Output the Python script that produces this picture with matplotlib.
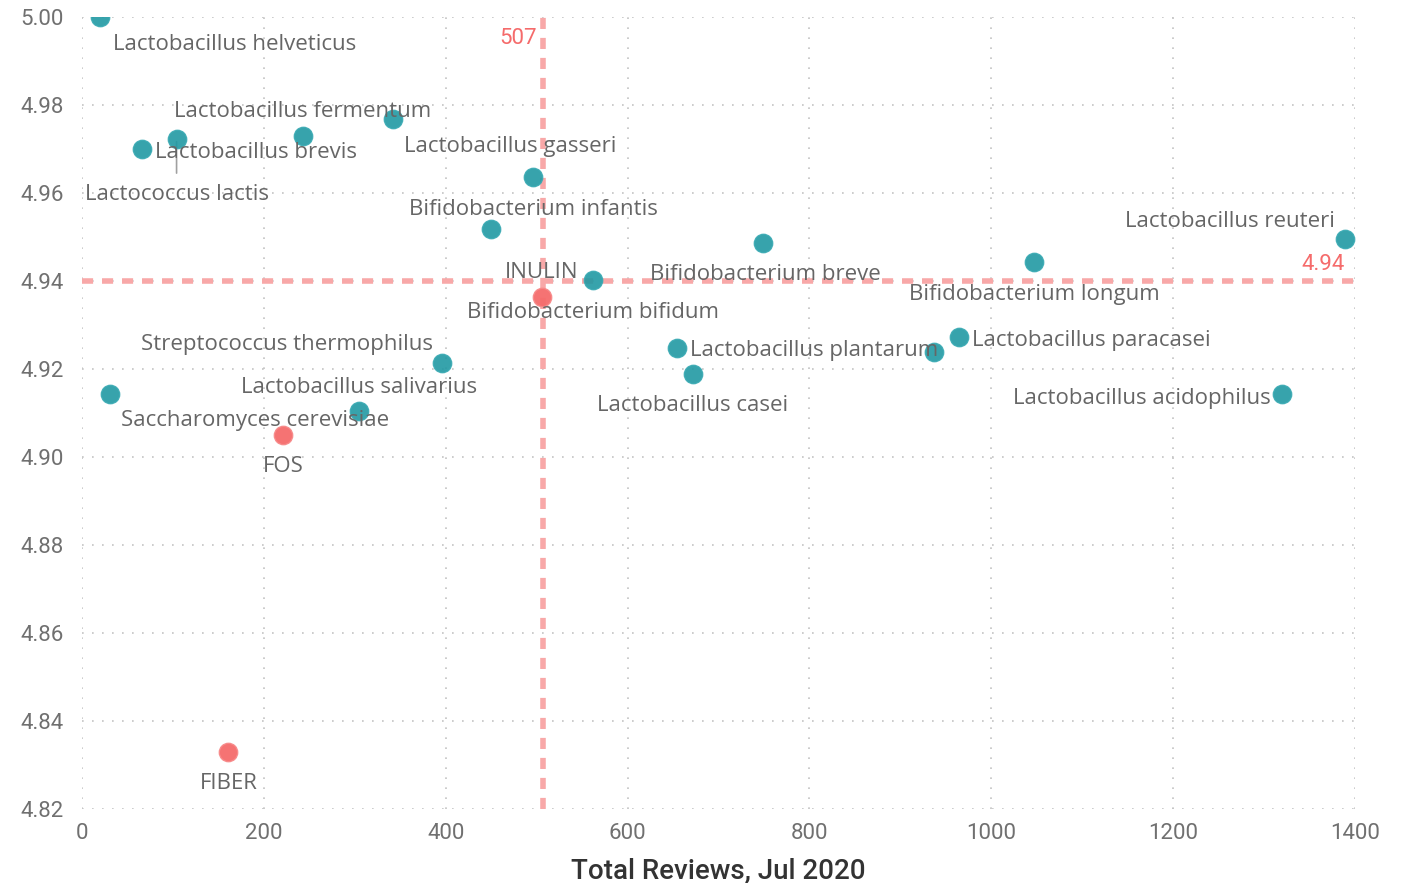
import matplotlib
matplotlib.use("Agg")
import matplotlib.pyplot as plt

# ---------------- data ----------------
teal_names = ["Lactobacillus helveticus", "Lactobacillus brevis", "Lactococcus lactis",
              "Lactobacillus fermentum", "Lactobacillus gasseri", "Bifidobacterium infantis",
              "", "Bifidobacterium bifidum", "Bifidobacterium breve", "Bifidobacterium longum",
              "Lactobacillus reuteri", "Streptococcus thermophilus", "Lactobacillus salivarius",
              "Saccharomyces cerevisiae", "Lactobacillus plantarum", "",
              "Lactobacillus paracasei", "Lactobacillus casei", "Lactobacillus acidophilus"]
teal_reviews = [20, 66, 104, 243, 342, 496, 450, 562, 749, 1047, 1389, 396, 305, 31, 654, 937, 964, 672, 1320]
teal_rating = [5.000, 4.970, 4.9723, 4.9730, 4.9768, 4.9636, 4.9518, 4.9402, 4.9486, 4.9443,
               4.9495, 4.9214, 4.9105, 4.9143, 4.9248, 4.9239, 4.9273, 4.9189, 4.9143]

red_names = ["INULIN", "FOS", "FIBER"]
red_reviews = [506, 221, 161]
red_rating = [4.9364, 4.905, 4.833]

avg_reviews = 507
avg_rating = 4.94

x_ticks = [0, 200, 400, 600, 800, 1000, 1200, 1400]
y_ticks = [4.82, 4.84, 4.86, 4.88, 4.90, 4.92, 4.94, 4.96, 4.98, 5.00]
x_title = "Total Reviews, Jul 2020"

# label placement (pixel offsets, alignment) -- presentation only
teal_offsets = [(13, -27, "left"), (13, -4, "left"), (0, -56, "center"), (0, 24, "center"),
                (11, -27, "left"), (0, -32, "center"), (0, 0, "center"), (0, -32, "center"),
                (2, -31, "center"), (0, -32, "center"), (-10, 18, "right"), (-9, 18, "right"),
                (0, 23, "center"), (11, -26, "left"), (13, -3, "left"), (0, 0, "center"),
                (13, -4, "left"), (0, -32, "center"), (-12, -4, "right")]
red_offsets = [(0, 24, "center"), (0, -31, "center"), (0, -32, "center")]

# ---------------- style ----------------
label_font = ["Open Sans", "DejaVu Sans"]
tick_font = "Roboto"

TEAL = "#2199A3"
RED = "#F56B6B"
REF = "#F8A8A8"
TXT = "#666666"

fig = plt.figure(figsize=(14.09, 8.83), dpi=100)
ax = fig.add_axes([82 / 1409, 1 - 809 / 883, (1355 - 82) / 1409, (809 - 17) / 883])

ax.set_xlim(0, 1400)
ax.set_ylim(4.82, 5.00)
ax.set_xticks(x_ticks)
ax.set_yticks(y_ticks)
ax.set_yticklabels([f"{v:.2f}" for v in y_ticks])
ax.set_xticklabels([str(v) for v in x_ticks])
for s in ax.spines.values():
    s.set_visible(False)
ax.tick_params(length=0, labelsize=16, colors="#707070")
ax.tick_params(axis="y", pad=13)
ax.tick_params(axis="x", pad=10)
for lab in ax.get_xticklabels() + ax.get_yticklabels():
    lab.set_fontfamily(tick_font)
ax.grid(True, color="#C4C4C4", linestyle=(0, (1, 5)), linewidth=1.2)
ax.set_axisbelow(True)

# reference lines
ax.axvline(avg_reviews, color=REF, linewidth=4, linestyle=(0, (2, 1.6)), zorder=1)
ax.axhline(avg_rating, color=REF, linewidth=4, linestyle=(0, (2, 1.6)), zorder=1)
ax.annotate(str(avg_reviews), xy=(avg_reviews, 5.00), xytext=(-6, -22), textcoords="offset pixels",
            ha="right", va="center", color=RED, fontsize=16, fontfamily=tick_font)
ax.annotate(f"{avg_rating:.2f}", xy=(1400, avg_rating), xytext=(-10, 16), textcoords="offset pixels",
            ha="right", va="center", color=RED, fontsize=16, fontfamily=tick_font)

# points
ax.scatter(teal_reviews, teal_rating, s=175, color=TEAL, alpha=0.9, edgecolors="#3AAAB3",
           linewidths=1, zorder=3)
ax.scatter(red_reviews, red_rating, s=175, color=RED, alpha=0.95, edgecolors="#F78A8A",
           linewidths=1, zorder=3)

# labels
for n, x, y, (dx, dy, ha) in zip(teal_names, teal_reviews, teal_rating, teal_offsets):
    if not n:
        continue
    ax.annotate(n, xy=(x, y), xytext=(dx, dy), textcoords="offset pixels", ha=ha, va="center",
                fontsize=16, color=TXT, fontfamily=label_font, zorder=4)
    if n == "Lactococcus lactis":
        ax.annotate("", xy=(x, y), xytext=(0, -37), textcoords="offset pixels",
                    arrowprops=dict(arrowstyle="-", color="#A0A0A0", lw=1.2), zorder=2)
for n, x, y, (dx, dy, ha) in zip(red_names, red_reviews, red_rating, red_offsets):
    ax.annotate(n, xy=(x, y), xytext=(dx, dy), textcoords="offset pixels", ha=ha, va="center",
                fontsize=16, color=TXT, fontfamily=label_font, zorder=4)

ax.set_xlabel(x_title, fontsize=20, color="#333333", fontfamily=tick_font, fontweight="medium",
              labelpad=10)

fig.savefig("out.png", dpi=100)
